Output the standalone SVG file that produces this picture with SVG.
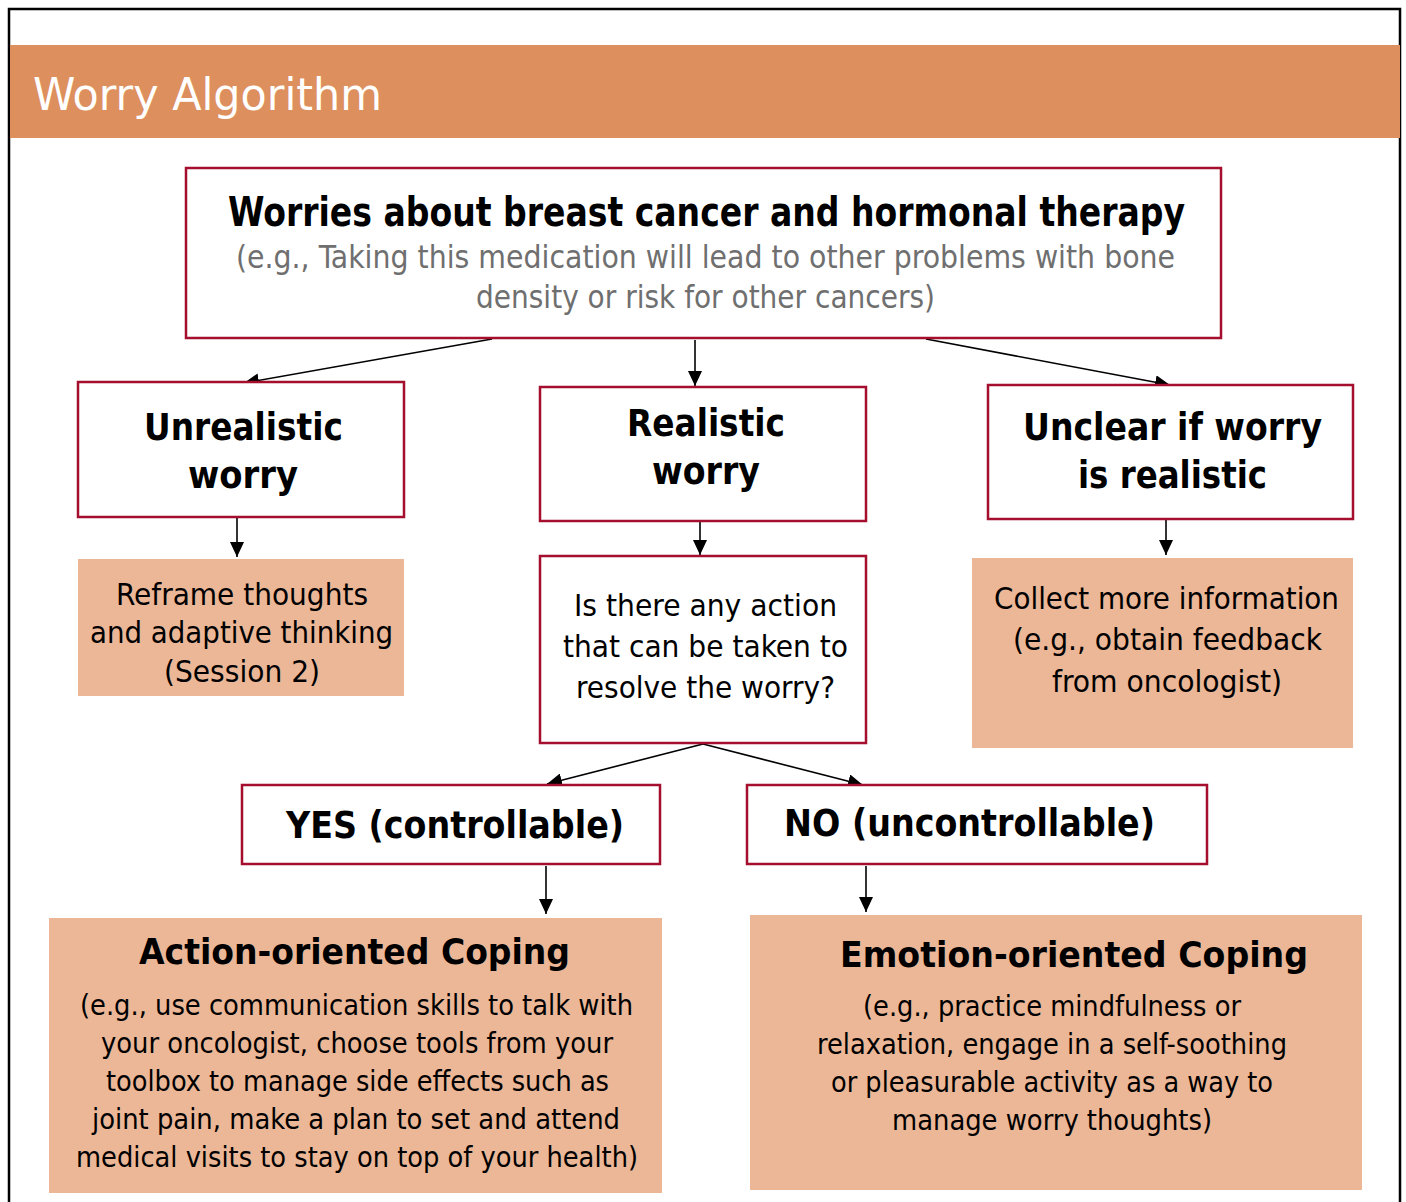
<svg xmlns="http://www.w3.org/2000/svg" width="1406" height="1202" viewBox="0 0 1406 1202">
  <defs>
    <marker id="arrow" markerUnits="userSpaceOnUse" markerWidth="16" markerHeight="14" refX="15" refY="7" orient="auto">
      <path d="M0,0 L15,7 L0,14 Z" fill="#000"/>
    </marker>
    <style>
      .frame { fill: none; stroke: #000; stroke-width: 2.5; }
      .band { fill: #DD8F5D; }
      .box { fill: #fff; stroke: #A50F2D; stroke-width: 2.5; }
      .fill { fill: #EBB797; }
      .conn { stroke: #000; stroke-width: 1.6; fill: none; marker-end: url(#arrow); }
      text { font-family: "DejaVu Sans Condensed", "DejaVu Sans", Tahoma, sans-serif; fill: #000; text-anchor: middle; }
      .title { font-size: 45px; fill: #fff; text-anchor: start; }
      .hb { font-weight: bold; font-size: 40px; }
      .gray { font-size: 32px; fill: #6F6F6F; }
      .nb { font-weight: bold; font-size: 37px; }
      .body { font-size: 30px; }
      .qb { font-size: 31px; }
      .cb { font-weight: bold; font-size: 36px; }
      .small { font-size: 29px; }
    </style>
  </defs>

  <!-- page frame and header band -->
  <rect class="frame" x="9" y="9" width="1391" height="1200"/>
  <rect class="band" x="10" y="45" width="1390" height="93"/>
  <text class="title" x="33" y="110" textLength="349" lengthAdjust="spacingAndGlyphs">Worry Algorithm</text>

  <!-- connectors -->
  <g id="connectors">
    <line class="conn" x1="492" y1="339" x2="244" y2="383"/>
    <line class="conn" x1="695" y1="340" x2="695" y2="386"/>
    <line class="conn" x1="926" y1="339" x2="1170" y2="385"/>
    <line class="conn" x1="237" y1="518" x2="237" y2="557"/>
    <line class="conn" x1="700" y1="522" x2="700" y2="555"/>
    <line class="conn" x1="1166" y1="520" x2="1166" y2="555"/>
    <line class="conn" x1="703" y1="744" x2="547" y2="784"/>
    <line class="conn" x1="703" y1="744" x2="863" y2="785"/>
    <line class="conn" x1="546" y1="866" x2="546" y2="914"/>
    <line class="conn" x1="866" y1="866" x2="866" y2="912"/>
  </g>

  <g id="worries">
    <rect class="box" x="186" y="168" width="1035" height="170"/>
    <text class="hb" x="706.5" y="226" textLength="957" lengthAdjust="spacingAndGlyphs">Worries about breast cancer and hormonal therapy</text>
    <text class="gray" x="705.5" y="268" textLength="939" lengthAdjust="spacingAndGlyphs">(e.g., Taking this medication will lead to other problems with bone</text>
    <text class="gray" x="705.5" y="308" textLength="459" lengthAdjust="spacingAndGlyphs">density or risk for other cancers)</text>
  </g>

  <g id="unrealistic">
    <rect class="box" x="78" y="382" width="326" height="135"/>
    <text class="nb" x="243.5" y="440" textLength="199" lengthAdjust="spacingAndGlyphs">Unrealistic</text>
    <text class="nb" x="243" y="488" textLength="110" lengthAdjust="spacingAndGlyphs">worry</text>
  </g>

  <g id="realistic">
    <rect class="box" x="540" y="387" width="326" height="134"/>
    <text class="nb" x="706" y="436" textLength="158" lengthAdjust="spacingAndGlyphs">Realistic</text>
    <text class="nb" x="706" y="484" textLength="108" lengthAdjust="spacingAndGlyphs">worry</text>
  </g>

  <g id="unclear">
    <rect class="box" x="988" y="385" width="365" height="134"/>
    <text class="nb" x="1172.5" y="440" textLength="299" lengthAdjust="spacingAndGlyphs">Unclear if worry</text>
    <text class="nb" x="1172.5" y="488" textLength="189" lengthAdjust="spacingAndGlyphs">is realistic</text>
  </g>

  <g id="reframe">
    <rect class="fill" x="78" y="559" width="326" height="137"/>
    <text class="body" x="242" y="605" textLength="252" lengthAdjust="spacingAndGlyphs">Reframe thoughts</text>
    <text class="body" x="241.5" y="643" textLength="303" lengthAdjust="spacingAndGlyphs">and adaptive thinking</text>
    <text class="body" x="242" y="682" textLength="156" lengthAdjust="spacingAndGlyphs">(Session 2)</text>
  </g>

  <g id="question">
    <rect class="box" x="540" y="556" width="326" height="187"/>
    <text class="qb" x="705.5" y="616" textLength="263" lengthAdjust="spacingAndGlyphs">Is there any action</text>
    <text class="qb" x="705.5" y="657" textLength="285" lengthAdjust="spacingAndGlyphs">that can be taken to</text>
    <text class="qb" x="705.5" y="698" textLength="259" lengthAdjust="spacingAndGlyphs">resolve the worry?</text>
  </g>

  <g id="collect">
    <rect class="fill" x="972" y="558" width="381" height="190"/>
    <text class="qb" x="1166.5" y="609" textLength="345" lengthAdjust="spacingAndGlyphs">Collect more information</text>
    <text class="qb" x="1167.5" y="650" textLength="309" lengthAdjust="spacingAndGlyphs">(e.g., obtain feedback</text>
    <text class="qb" x="1167" y="692" textLength="230" lengthAdjust="spacingAndGlyphs">from oncologist)</text>
  </g>

  <g id="yes">
    <rect class="box" x="242" y="785" width="418" height="79"/>
    <text class="nb" x="455" y="838" textLength="338" lengthAdjust="spacingAndGlyphs">YES (controllable)</text>
  </g>

  <g id="no">
    <rect class="box" x="747" y="785" width="460" height="79"/>
    <text class="nb" x="969.5" y="836" textLength="371" lengthAdjust="spacingAndGlyphs">NO (uncontrollable)</text>
  </g>

  <g id="action-coping">
    <rect class="fill" x="49" y="918" width="613" height="275"/>
    <text class="cb" x="354.5" y="964" textLength="431" lengthAdjust="spacingAndGlyphs">Action-oriented Coping</text>
    <text class="small" x="356.5" y="1015" textLength="553" lengthAdjust="spacingAndGlyphs">(e.g., use communication skills to talk with</text>
    <text class="small" x="357" y="1053" textLength="512" lengthAdjust="spacingAndGlyphs">your oncologist, choose tools from your</text>
    <text class="small" x="357.5" y="1091" textLength="503" lengthAdjust="spacingAndGlyphs">toolbox to manage side effects such as</text>
    <text class="small" x="356" y="1129" textLength="528" lengthAdjust="spacingAndGlyphs">joint pain, make a plan to set and attend</text>
    <text class="small" x="357" y="1167" textLength="562" lengthAdjust="spacingAndGlyphs">medical visits to stay on top of your health)</text>
  </g>

  <g id="emotion-coping">
    <rect class="fill" x="750" y="915" width="612" height="275"/>
    <text class="cb" x="1074" y="967" textLength="468" lengthAdjust="spacingAndGlyphs">Emotion-oriented Coping</text>
    <text class="small" x="1052" y="1016" textLength="378" lengthAdjust="spacingAndGlyphs">(e.g., practice mindfulness or</text>
    <text class="small" x="1052" y="1054" textLength="470" lengthAdjust="spacingAndGlyphs">relaxation, engage in a self-soothing</text>
    <text class="small" x="1052" y="1092" textLength="442" lengthAdjust="spacingAndGlyphs">or pleasurable activity as a way to</text>
    <text class="small" x="1052" y="1130" textLength="320" lengthAdjust="spacingAndGlyphs">manage worry thoughts)</text>
  </g>
</svg>
